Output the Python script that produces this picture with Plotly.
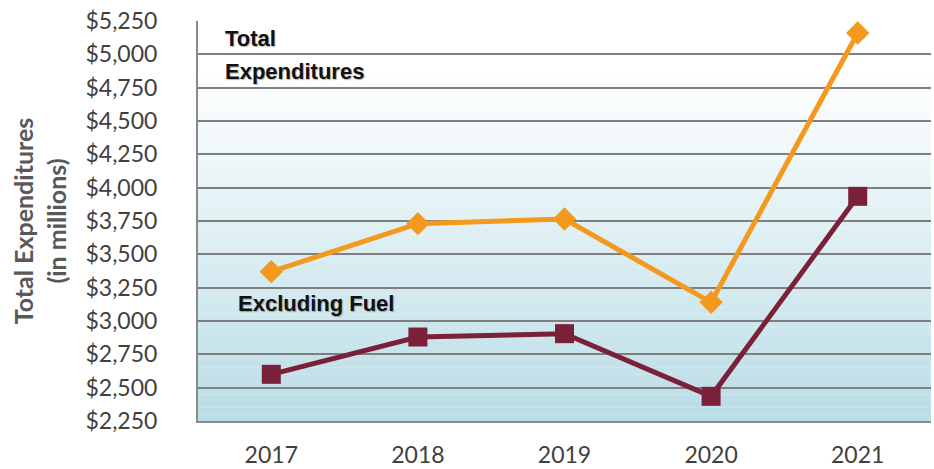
import plotly.graph_objects as go

years = ["2017", "2018", "2019", "2020", "2021"]
total_exp = [3370, 3730, 3765, 3140, 5160]
excl_fuel = [2600, 2880, 2905, 2435, 3935]
tick_vals = list(range(2250, 5251, 250))
tick_text = [f"${v:,}" for v in tick_vals]

fig = go.Figure()

# background vertical gradient (white top -> light blue bottom)
n = 60
top = (255, 255, 255)
bot = (186, 221, 230)
for i in range(n):
    t = i / (n - 1)
    f = max(0.0, (t - 0.12) / 0.88)
    c = tuple(int(round(top[k] + (bot[k] - top[k]) * f)) for k in range(3))
    fig.add_shape(type="rect", xref="x domain", yref="y domain",
                  x0=0, x1=1, y0=1 - (i + 1) / n, y1=1 - i / n,
                  fillcolor=f"rgb{c}", line_width=0, layer="below")

fig.add_trace(go.Scatter(x=years, y=total_exp, mode="lines+markers",
                         line=dict(color="#F39A1E", width=5),
                         marker=dict(symbol="diamond", size=18, color="#F39A1E"),
                         showlegend=False))
fig.add_trace(go.Scatter(x=years, y=excl_fuel, mode="lines+markers",
                         line=dict(color="#7A2139", width=5),
                         marker=dict(symbol="square", size=19, color="#7A2139"),
                         showlegend=False))

ann_font = dict(family="Liberation Sans, Arial", size=22, color="#111111",
                shadow="1px 1px 1px rgba(0,0,0,0.3)")
fig.add_annotation(text="<b>Total</b>", xref="paper", yref="y", x=0.034, y=5120,
                   xanchor="left", yanchor="middle", showarrow=False, font=ann_font)
fig.add_annotation(text="<b>Expenditures</b>", xref="paper", yref="y", x=0.034, y=4870,
                   xanchor="left", yanchor="middle", showarrow=False, font=ann_font)
fig.add_annotation(text="<b>Excluding Fuel</b>", xref="paper", yref="y", x=0.052, y=3135,
                   xanchor="left", yanchor="middle", showarrow=False, font=ann_font)

fig.update_layout(
    width=934, height=469,
    margin=dict(l=198, r=3, t=21, b=48),
    paper_bgcolor="white", plot_bgcolor="white",
    font=dict(family="Lato, Open Sans, sans-serif", color="#404040"),
    xaxis=dict(type="category", range=[-0.5, 4.5], showgrid=False,
               showline=True, linecolor="#8a8a8a", linewidth=2,
               ticks="", tickfont=dict(size=23, color="#404040"),
               ticklabelstandoff=12, zeroline=False, automargin=False),
    yaxis=dict(range=[2250, 5250], tickvals=tick_vals, ticktext=tick_text,
               showgrid=True, gridcolor="#7f7f7f", gridwidth=2,
               showline=True, linecolor="#8a8a8a", linewidth=2,
               ticks="", tickfont=dict(size=23, color="#404040"),
               ticklabelstandoff=34, zeroline=False, automargin=False,
               title=dict(text="<b>Total Expenditures<br>(in millions)</b>",
                          font=dict(size=25, color="#595959"), standoff=12)),
)

fig.write_html("out.html", config={"displayModeBar": False},
               post_script="document.body.style.margin='0';document.body.style.overflow='hidden';")
